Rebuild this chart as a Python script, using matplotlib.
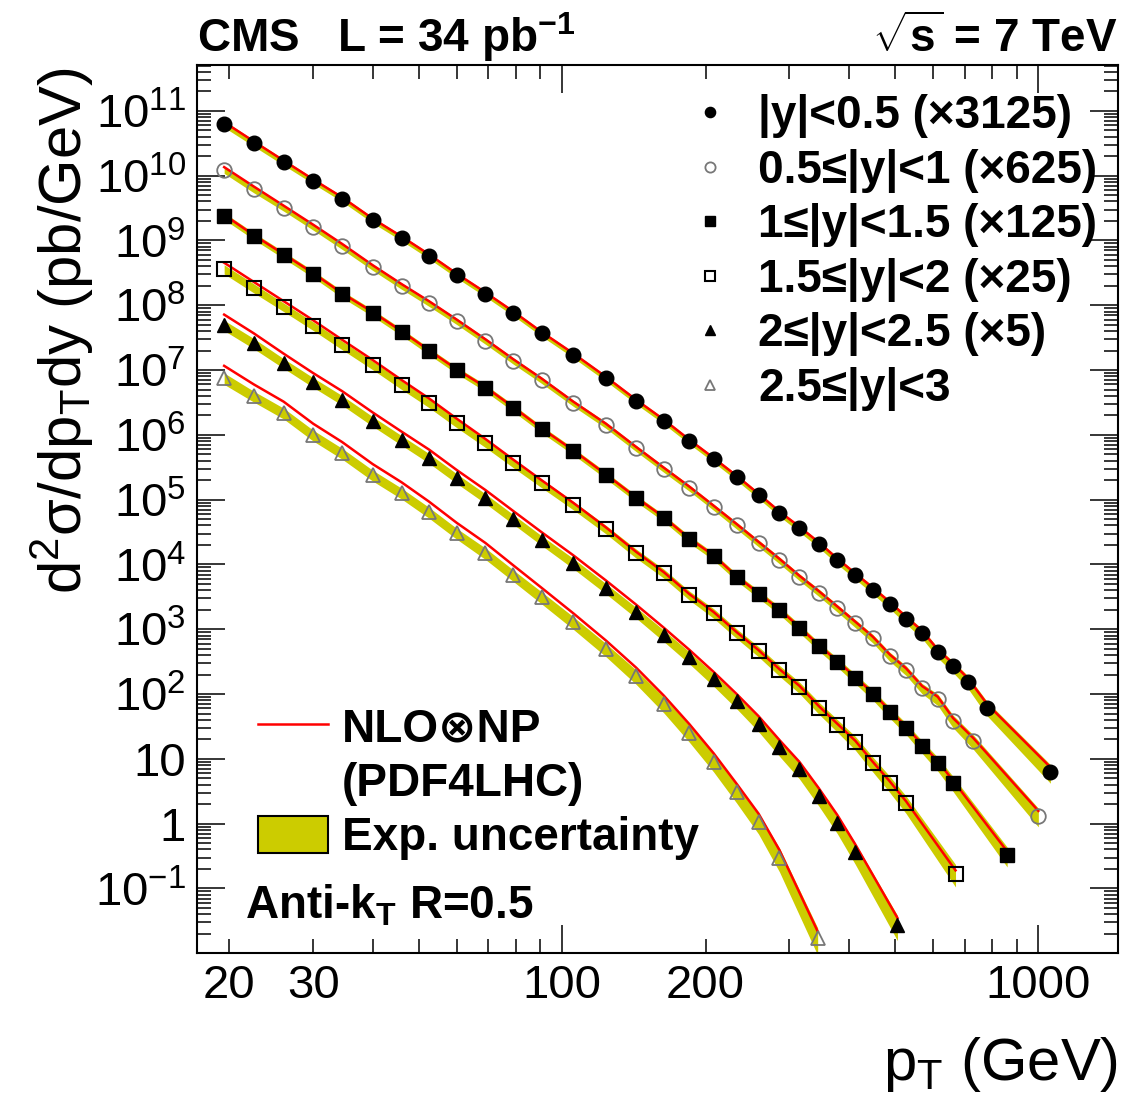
import numpy as np
import matplotlib
matplotlib.use("Agg")
import matplotlib.pyplot as plt
from matplotlib.ticker import FixedLocator, LogLocator, FuncFormatter, NullFormatter
from matplotlib.lines import Line2D
from matplotlib.patches import Patch
from matplotlib.font_manager import FontProperties

# jet pT bin centres (GeV) for each rapidity bin
pt_y0 = [19.5, 22.5, 26, 30, 34.5, 40, 46, 52.5, 60, 69,
         79, 90.5, 105.5, 123.5, 143, 163.5, 185, 208, 232.5, 258.5,
         286, 315, 346, 378.5, 412.5, 449, 487.5, 527.5, 570, 615,
         662, 711.5, 780, 1060]
pt_y1 = [19.5, 22.5, 26, 30, 34.5, 40, 46, 52.5, 60, 69,
         79, 90.5, 105.5, 123.5, 143, 163.5, 185, 208, 232.5, 258.5,
         286, 315, 346, 378.5, 412.5, 449, 487.5, 527.5, 570, 615,
         662, 730, 1000]
pt_y2 = [19.5, 22.5, 26, 30, 34.5, 40, 46, 52.5, 60, 69,
         79, 90.5, 105.5, 123.5, 143, 163.5, 185, 208, 232.5, 258.5,
         286, 315, 346, 378.5, 412.5, 449, 487.5, 527.5, 570, 615,
         662, 860]
pt_y3 = [19.5, 22.5, 26, 30, 34.5, 40, 46, 52.5, 60, 69,
         79, 90.5, 105.5, 123.5, 143, 163.5, 185, 208, 232.5, 258.5,
         286, 315, 346, 378.5, 412.5, 449, 487.5, 527.5, 670]
pt_y4 = [19.5, 22.5, 26, 30, 34.5, 40, 46, 52.5, 60, 69,
         79, 90.5, 105.5, 123.5, 143, 163.5, 185, 208, 232.5, 258.5,
         286, 315, 346, 378.5, 412.5, 506]
pt_y5 = [19.5, 22.5, 26, 30, 34.5, 40, 46, 52.5, 60, 69,
         79, 90.5, 105.5, 123.5, 143, 163.5, 185, 208, 232.5, 258.5,
         286, 344]

# measured d2sigma/dpT dy (pb/GeV), before the display scale factors
xs_y0 = [2.02e7, 1.02e7, 5.2e6, 2.66e6, 1.41e6, 6.6e5, 3.5e5, 1.86e5, 9.4e4, 4.8e4,
         2.43e4, 1.18e4, 5.5e3, 2.4e3, 1.06e3, 522, 256, 134, 71, 37.4,
         19.8, 11.5, 6.6, 3.7, 2.18, 1.31, 0.78, 0.46, 0.278, 0.141,
         0.086, 0.050, 0.0198, 0.00198]
xs_y1 = [1.97e7, 9.9e6, 5.1e6, 2.59e6, 1.31e6, 6.2e5, 3.17e5, 1.73e5, 9.1e4, 4.5e4,
         2.21e4, 1.12e4, 4.96e3, 2.27e3, 992, 474, 242, 123, 64, 34,
         18.6, 10.2, 5.9, 3.38, 1.98, 1.16, 0.61, 0.373, 0.197, 0.133,
         0.062, 0.030, 0.0021]
xs_y2 = [1.91e7, 9.4e6, 4.78e6, 2.43e6, 1.19e6, 6.1e5, 3.09e5, 1.57e5, 8.0e4, 4.24e4,
         2.07e4, 9.8e3, 4.48e3, 1.91e3, 840, 416, 196, 107, 51, 28,
         15.7, 8.3, 4.37, 2.47, 1.40, 0.79, 0.42, 0.237, 0.125, 0.068,
         0.034, 0.0026]
xs_y3 = [1.45e7, 7.4e6, 3.76e6, 1.92e6, 9.7e5, 4.76e5, 2.36e5, 1.24e5, 6.1e4, 3.0e4,
         1.46e4, 7.2e3, 3.28e3, 1.40e3, 596, 292, 134, 71, 34.7, 18.3,
         9.3, 5.1, 2.48, 1.32, 0.72, 0.34, 0.168, 0.082, 0.0068]
xs_y4 = [9.9e6, 5.2e6, 2.56e6, 1.3e6, 6.9e5, 3.26e5, 1.66e5, 8.8e4, 4.3e4, 2.1e4,
         1.0e4, 4.74e3, 2.1e3, 860, 366, 161, 74, 33.8, 15.4, 7.0,
         3.0, 1.38, 0.54, 0.208, 0.074, 0.0054]
xs_y5 = [7.5e6, 3.96e6, 2.17e6, 9.9e5, 5.2e5, 2.39e5, 1.26e5, 6.4e4, 3.04e4, 1.49e4,
         6.8e3, 3.12e3, 1.28e3, 491, 188, 70, 25.4, 9.1, 3.1, 1.08,
         0.30, 0.017]

# NLO x NP prediction over data (red curves)
th_y0 = [1.06, 1.06, 1.05, 1.05, 1.05, 1.05, 1.05, 1.05, 1.05, 1.05,
         1.05, 1.05, 1.05, 1.05, 1.05, 1.05, 1.05, 1.05, 1.05, 1.05,
         1.06, 1.06, 1.06, 1.06, 1.07, 1.07, 1.08, 1.08, 1.09, 1.10,
         1.10, 1.12, 1.14, 1.20]
th_y1 = [1.10, 1.10, 1.08, 1.08, 1.08, 1.07, 1.07, 1.07, 1.06, 1.06,
         1.06, 1.06, 1.05, 1.05, 1.05, 1.05, 1.05, 1.05, 1.05, 1.05,
         1.05, 1.05, 1.05, 1.06, 1.06, 1.06, 1.07, 1.07, 1.08, 1.09,
         1.10, 1.12, 1.20]
th_y2 = [1.04, 1.03, 1.03, 1.03, 1.03, 1.03, 1.03, 1.03, 1.03, 1.03,
         1.03, 1.03, 1.03, 1.03, 1.03, 1.03, 1.03, 1.03, 1.03, 1.03,
         1.03, 1.04, 1.04, 1.04, 1.05, 1.05, 1.06, 1.06, 1.07, 1.08,
         1.09, 1.15]
th_y3 = [1.25, 1.24, 1.23, 1.22, 1.21, 1.20, 1.19, 1.18, 1.17, 1.15,
         1.13, 1.11, 1.09, 1.07, 1.05, 1.04, 1.04, 1.04, 1.04, 1.04,
         1.04, 1.05, 1.05, 1.05, 1.06, 1.06, 1.07, 1.08, 1.12]
th_y4 = [1.45, 1.42, 1.40, 1.38, 1.37, 1.36, 1.35, 1.35, 1.34, 1.34,
         1.33, 1.33, 1.32, 1.32, 1.31, 1.31, 1.30, 1.30, 1.30, 1.30,
         1.30, 1.30, 1.30, 1.30, 1.30, 1.30]
th_y5 = [1.55, 1.52, 1.50, 1.50, 1.49, 1.48, 1.47, 1.46, 1.45, 1.44,
         1.42, 1.40, 1.38, 1.37, 1.36, 1.35, 1.35, 1.34, 1.33, 1.32,
         1.30, 1.28]

# relative experimental uncertainty (yellow bands)
unc_y0 = [0.12, 0.11, 0.11, 0.10, 0.10, 0.10, 0.10, 0.10, 0.10, 0.10,
          0.10, 0.10, 0.10, 0.10, 0.10, 0.10, 0.10, 0.10, 0.11, 0.11,
          0.11, 0.12, 0.12, 0.13, 0.13, 0.14, 0.15, 0.16, 0.17, 0.18,
          0.20, 0.22, 0.25, 0.32]
unc_y1 = [0.12, 0.12, 0.11, 0.11, 0.11, 0.11, 0.11, 0.11, 0.11, 0.11,
          0.11, 0.11, 0.11, 0.11, 0.11, 0.11, 0.11, 0.11, 0.12, 0.12,
          0.12, 0.12, 0.13, 0.13, 0.14, 0.15, 0.16, 0.17, 0.18, 0.20,
          0.22, 0.25, 0.32]
unc_y2 = [0.12, 0.12, 0.12, 0.12, 0.12, 0.12, 0.12, 0.12, 0.12, 0.12,
          0.12, 0.12, 0.12, 0.12, 0.12, 0.12, 0.13, 0.13, 0.13, 0.14,
          0.14, 0.15, 0.15, 0.16, 0.17, 0.18, 0.19, 0.20, 0.22, 0.24,
          0.26, 0.34]
unc_y3 = [0.16, 0.16, 0.15, 0.15, 0.15, 0.15, 0.15, 0.15, 0.15, 0.15,
          0.15, 0.15, 0.15, 0.15, 0.16, 0.16, 0.16, 0.17, 0.17, 0.18,
          0.19, 0.20, 0.21, 0.22, 0.24, 0.26, 0.28, 0.30, 0.38]
unc_y4 = [0.18, 0.18, 0.17, 0.17, 0.17, 0.17, 0.17, 0.17, 0.17, 0.17,
          0.17, 0.17, 0.18, 0.18, 0.19, 0.20, 0.21, 0.22, 0.23, 0.25,
          0.27, 0.29, 0.31, 0.33, 0.36, 0.42]
unc_y5 = [0.20, 0.19, 0.19, 0.19, 0.19, 0.19, 0.19, 0.19, 0.19, 0.20,
          0.20, 0.21, 0.22, 0.23, 0.25, 0.27, 0.29, 0.31, 0.33, 0.36,
          0.40, 0.45]

scale_factors = [3125, 625, 125, 25, 5, 1]
labels = ["|y|<0.5 (\u00d73125)", "0.5\u2264|y|<1 (\u00d7625)", "1\u2264|y|<1.5 (\u00d7125)",
          "1.5\u2264|y|<2 (\u00d725)", "2\u2264|y|<2.5 (\u00d75)", "2.5\u2264|y|<3"]

plt.rcParams["font.family"] = ["Liberation Sans", "DejaVu Sans"]
plt.rcParams["mathtext.fontset"] = "custom"
plt.rcParams["mathtext.rm"] = "Liberation Sans"
plt.rcParams["mathtext.it"] = "Liberation Sans:italic"
plt.rcParams["mathtext.bf"] = "Liberation Sans:bold"

band_color = "#cccc00"
styles = [
    dict(marker="o", ms=10.5, mfc="black", mec="black", mew=1.0),
    dict(marker="o", ms=10.5, mfc="none", mec="#777777", mew=1.3),
    dict(marker="s", ms=9.5, mfc="black", mec="black", mew=1.0),
    dict(marker="s", ms=9.5, mfc="none", mec="black", mew=1.5),
    dict(marker="^", ms=10, mfc="black", mec="black", mew=1.0),
    dict(marker="^", ms=10, mfc="none", mec="#777777", mew=1.3),
]

fig = plt.figure(figsize=(11.35, 11.01), dpi=100)
ax = fig.add_axes([197 / 1135, 1 - 953 / 1101, 921 / 1135, 888 / 1101])
ax.set_xscale("log")
ax.set_yscale("log")

pts = [pt_y0, pt_y1, pt_y2, pt_y3, pt_y4, pt_y5]
xss = [xs_y0, xs_y1, xs_y2, xs_y3, xs_y4, xs_y5]
ths = [th_y0, th_y1, th_y2, th_y3, th_y4, th_y5]
uncs = [unc_y0, unc_y1, unc_y2, unc_y3, unc_y4, unc_y5]

handles = []
theory_line = None
for pt, xs, th, unc, sf, st in zip(pts, xss, ths, uncs, scale_factors, styles):
    pt = np.array(pt)
    val = np.array(xs) * sf
    unc = np.array(unc)
    ax.fill_between(pt, val * (1 - unc), val * (1 + unc), color=band_color, lw=0, zorder=1)
    theory_line, = ax.plot(pt, val * np.array(th), color="red", lw=1.8, zorder=2)
    h, = ax.plot(pt, val, ls="none", zorder=3, **st)
    handles.append(h)

ax.set_xlim(17.1, 1470)
ax.set_ylim(0.0101, 5.1e11)

ax.xaxis.set_major_locator(FixedLocator([100, 1000]))
ax.xaxis.set_minor_locator(FixedLocator([20, 30, 40, 50, 60, 70, 80, 90,
                                         200, 300, 400, 500, 600, 700, 800, 900]))
ax.xaxis.set_major_formatter(FuncFormatter(lambda v, p: f"{v:g}"))
ax.xaxis.set_minor_formatter(FuncFormatter(lambda v, p: f"{v:g}" if v in (20, 30, 200) else ""))


def ylab(v, p):
    n = int(round(np.log10(v)))
    if n == 0:
        return "1"
    if n == 1:
        return "10"
    return r"$10^{%d}$" % n


ax.yaxis.set_major_locator(FixedLocator([10.0 ** n for n in range(-1, 12)]))
ax.yaxis.set_minor_locator(LogLocator(base=10, subs=np.arange(2, 10), numticks=100))
ax.yaxis.set_major_formatter(FuncFormatter(ylab))
ax.yaxis.set_minor_formatter(NullFormatter())

ax.tick_params(which="both", direction="in", top=True, right=True, labelsize=34, width=1.1)
ax.tick_params(which="major", length=20)
ax.tick_params(which="minor", length=10)
ax.tick_params(axis="x", which="both", pad=8)
ax.tick_params(axis="y", which="both", pad=8)
for s in ax.spines.values():
    s.set_linewidth(1.5)

bold = FontProperties(weight="bold", size=33)
leg1 = ax.legend(handles, labels, loc="upper left", bbox_to_anchor=(687 / 1135, 1 - 94 / 1101),
                 bbox_transform=fig.transFigure, frameon=False, prop=bold, markerscale=0.7,
                 handlelength=1.0, handletextpad=0.55, labelspacing=0.23, borderpad=0,
                 borderaxespad=0)
ax.add_artist(leg1)

blank = Line2D([], [], color="none")
band_patch = Patch(facecolor=band_color, edgecolor="black", lw=1.5)
ax.legend([theory_line, blank, band_patch], ["NLO\u2297NP", "(PDF4LHC)", "Exp. uncertainty"],
          loc="upper left", bbox_to_anchor=(258 / 1135, 1 - 707 / 1101),
          bbox_transform=fig.transFigure, frameon=False, prop=bold,
          handlelength=1.53, handleheight=0.87, handletextpad=0.3, labelspacing=0.22,
          borderpad=0, borderaxespad=0)

fig.text(197 / 1135, 1 - 52 / 1101, r"CMS   L = 34 pb$^{\mathbf{-1}}$", fontsize=33,
         fontweight="bold", ha="left", va="baseline")
fig.text(1118 / 1135, 1 - 52 / 1101, r"$\sqrt{\mathbf{s}}$ = 7 TeV", fontsize=33,
         fontweight="bold", ha="right", va="baseline")
fig.text(245 / 1135, 1 - 918 / 1101, r"Anti-k$_{\mathbf{T}}$ R=0.5", fontsize=33,
         fontweight="bold", ha="left", va="baseline")
fig.text(1118 / 1135, 1 - 1080 / 1101, r"p$_{\mathrm{T}}$ (GeV)", fontsize=43,
         ha="right", va="baseline")
fig.text(96 / 1135, 1 - 67 / 1101, "d$^{2}$\u03c3/dp$_{\\mathrm{T}}$dy (pb/GeV)",
         fontsize=43, rotation=90, ha="right", va="top")

fig.savefig("out.png", dpi=100)
